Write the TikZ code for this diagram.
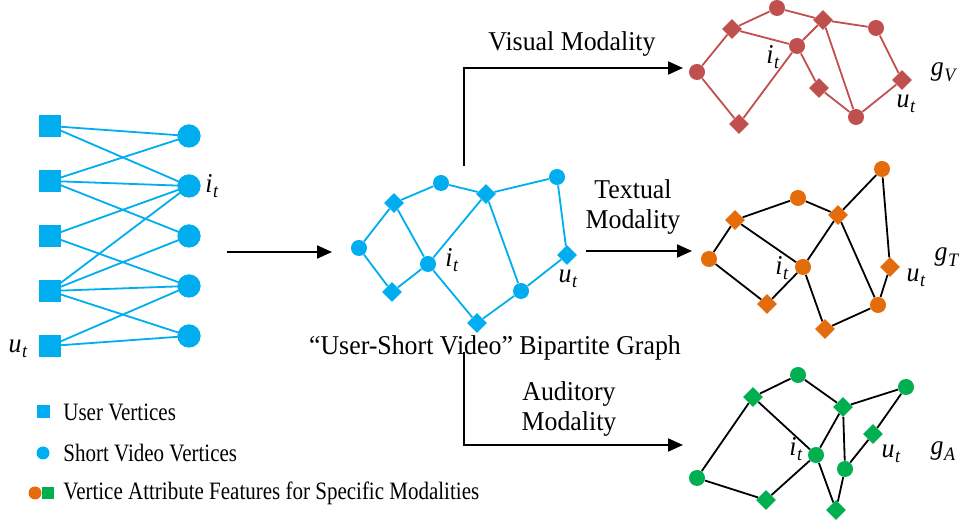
\documentclass[tikz,border=0pt]{standalone}
\usepackage{fontspec}
\setmainfont{Liberation Serif}[FakeStretch=0.95]
\newfontfamily\legfont{Liberation Serif}[FakeStretch=0.84]
\usetikzlibrary{shapes.geometric,arrows.meta}
\definecolor{cblue}{HTML}{00AEEF}
\definecolor{cred}{HTML}{C0504D}
\definecolor{corange}{HTML}{E46C0A}
\definecolor{cgreen}{HTML}{00B050}
\newcommand\sublbl[2]{\textit{#1}\kern0.3pt\raisebox{-0.45ex}{\fontsize{9.5}{9.5}\selectfont\textit{#2}}}
\begin{document}
\begin{tikzpicture}[x=0.5pt,y=-0.5pt,
 sqn/.style={rectangle,fill=#1,inner sep=0,minimum size=11pt},
 bcirc/.style={circle,fill=#1,inner sep=0,minimum size=11.5pt},
 vc/.style={circle,fill=#1,inner sep=0,minimum size=8pt},
 vd/.style={diamond,aspect=1,fill=#1,inner sep=0,minimum size=10pt},
 ed/.style={draw=#1,line width=0.9pt},
 arr/.style={line width=1pt,-{Triangle[length=7.5pt,width=6.5pt]}},
 txt/.style={font=\fontsize{13.6}{16}\selectfont,inner sep=0},
 leg/.style={font=\legfont\fontsize{12.5}{14.5}\selectfont,inner sep=0,anchor=west},
 lab/.style={font=\fontsize{13.6}{15}\selectfont,inner sep=0},
]
\useasboundingbox (0,0) rectangle (963,522);

% ---------- left bipartite graph ----------
\node[sqn=cblue] (s1) at (50,126) {};
\node[sqn=cblue] (s2) at (50,181) {};
\node[sqn=cblue] (s3) at (50,236) {};
\node[sqn=cblue] (s4) at (50,291) {};
\node[sqn=cblue] (s5) at (50,346) {};
\node[bcirc=cblue] (c1) at (189,136) {};
\node[bcirc=cblue] (c2) at (189,186) {};
\node[bcirc=cblue] (c3) at (189,236) {};
\node[bcirc=cblue] (c4) at (189,286) {};
\node[bcirc=cblue] (c5) at (189,336) {};
\foreach \a/\b in {s1/c1,s1/c2,s2/c1,s2/c2,s2/c3,s3/c2,s3/c4,s4/c2,s4/c3,s4/c4,s4/c5,s5/c4,s5/c5}
  \draw[ed=cblue] (\a.center) -- (\b.center);
\foreach \n in {s1,s2,s3,s4,s5} \node[sqn=cblue] at (\n) {};
\foreach \n in {c1,c2,c3,c4,c5} \node[bcirc=cblue] at (\n) {};
\node[lab] (lit) at (212,186) {\sublbl{i}{t}};
\node[lab] (lut) at (18,349) {\sublbl{u}{t}};

% main arrow
\coordinate (a0) at (227,252);
\coordinate (a1) at (332,252);
\draw[arr] (a0) -- (a1);

% ---------- centre graph ----------
\node[vd=cblue] (b1) at (394,203) {};
\node[vc=cblue] (b2) at (441,183) {};
\node[vd=cblue] (b3) at (486,194) {};
\node[vc=cblue] (b4) at (557,177) {};
\node[vc=cblue] (b5) at (359,248) {};
\node[vc=cblue] (b6) at (428,264) {};
\node[vd=cblue] (b7) at (392,292) {};
\node[vd=cblue] (b8) at (477,323) {};
\node[vc=cblue] (b9) at (521,291) {};
\node[vd=cblue] (b10) at (567,255) {};
\foreach \a/\b in {b1/b2,b2/b3,b3/b4,b4/b10,b10/b9,b9/b3,b9/b8,b8/b6,b6/b3,b6/b1,b6/b7,b7/b5,b5/b1}
  \draw[ed=cblue] (\a) -- (\b);
\node[lab] at (452,260) {\sublbl{i}{t}};
\node[lab] at (568,279) {\sublbl{u}{t}};
\node[txt] (cap) at (495,348) {“User-Short Video” Bipartite Graph};

% ---------- modality arrows ----------
\coordinate (v0) at (464,166);
\coordinate (v1) at (464,68);
\coordinate (v2) at (683,68);
\draw[arr] (v0) -- (v1) -- (v2);
\node[txt] at (572,44) {Visual Modality};

\coordinate (t0) at (586,251);
\coordinate (t1) at (692,251);
\draw[arr] (t0) -- (t1);
\node[txt,align=center] at (633,207) {Textual\\[-1pt]Modality};

\coordinate (d0) at (464,352);
\coordinate (d1) at (464,445);
\coordinate (d2) at (683,445);
\draw[arr] (d0) -- (d1) -- (d2);
\node[txt,align=center] at (569,409) {Auditory\\[-1pt]Modality};

% ---------- visual graph (red) ----------
\node[vc=cred] (r1) at (777,8) {};
\node[vd=cred] (r2) at (732,29) {};
\node[vd=cred] (r3) at (823,20) {};
\node[vc=cred] (r4) at (876,28) {};
\node[vc=cred] (r5) at (797,46) {};
\node[vc=cred] (r6) at (697,72) {};
\node[vd=cred] (r7) at (819,88) {};
\node[vd=cred] (r8) at (902,80) {};
\node[vd=cred] (r9) at (739,124) {};
\node[vc=cred] (r10) at (856,117) {};
\foreach \a/\b in {r1/r2,r1/r3,r3/r4,r4/r8,r8/r10,r10/r3,r10/r7,r7/r5,r5/r3,r5/r2,r5/r9,r9/r6,r6/r2}
  \draw[ed=cred] (\a) -- (\b);
\node[lab] at (773,57) {\sublbl{i}{t}};
\node[lab] at (906,104) {\sublbl{u}{t}};
\node[lab] at (944,72) {\sublbl{g}{V}};

% ---------- textual graph (orange) ----------
\node[vc=corange] (o1) at (882,169) {};
\node[vc=corange] (o2) at (798,198) {};
\node[vd=corange] (o3) at (735,220) {};
\node[vd=corange] (o4) at (838,215) {};
\node[vc=corange] (o5) at (709,259) {};
\node[vc=corange] (o6) at (803,267) {};
\node[vd=corange] (o7) at (890,267) {};
\node[vd=corange] (o8) at (767,304) {};
\node[vc=corange] (o9) at (878,305) {};
\node[vd=corange] (o10) at (825,329) {};
\foreach \a/\b in {o3/o2,o2/o4,o4/o1,o1/o7,o7/o9,o9/o4,o9/o10,o10/o6,o6/o4,o6/o3,o6/o8,o8/o5,o5/o3}
  \draw[ed=black] (\a) -- (\b);
\node[lab] at (782,268) {\sublbl{i}{t}};
\node[lab] at (916,278) {\sublbl{u}{t}};
\node[lab] at (947,257) {\sublbl{g}{T}};

% ---------- auditory graph (green) ----------
\node[vc=cgreen] (g1) at (798,375) {};
\node[vc=cgreen] (g2) at (906,387) {};
\node[vd=cgreen] (g3) at (753,397) {};
\node[vd=cgreen] (g4) at (843,407) {};
\node[vd=cgreen] (g5) at (873,434) {};
\node[vc=cgreen] (g6) at (816,455) {};
\node[vc=cgreen] (g7) at (845,469) {};
\node[vc=cgreen] (g8) at (697,478) {};
\node[vd=cgreen] (g9) at (766,500) {};
\node[vd=cgreen] (g10) at (836,510) {};
\foreach \a/\b in {g3/g1,g1/g4,g4/g2,g2/g5,g5/g7,g7/g4,g7/g10,g10/g6,g6/g4,g6/g3,g6/g9,g9/g8,g8/g3}
  \draw[ed=black] (\a) -- (\b);
\node[lab] at (796,449) {\sublbl{i}{t}};
\node[lab] at (891,454) {\sublbl{u}{t}};
\node[lab] at (943,451) {\sublbl{g}{A}};

% ---------- legend ----------
\node[rectangle,fill=cblue,inner sep=0,minimum size=6.5pt] (l1) at (43,412) {};
\node[leg] at (63,412) {User Vertices};
\node[circle,fill=cblue,inner sep=0,minimum size=6.5pt] (l2) at (43,453) {};
\node[leg] at (63,453) {Short Video Vertices};
\node[circle,fill=corange,inner sep=0,minimum size=6.5pt] (l3) at (35,493) {};
\node[rectangle,fill=cgreen,inner sep=0,minimum size=6pt] (l4) at (48,493) {};
\node[leg] at (63,493) {Vertice Attribute Features for Specific Modalities};
\end{tikzpicture}
\end{document}
